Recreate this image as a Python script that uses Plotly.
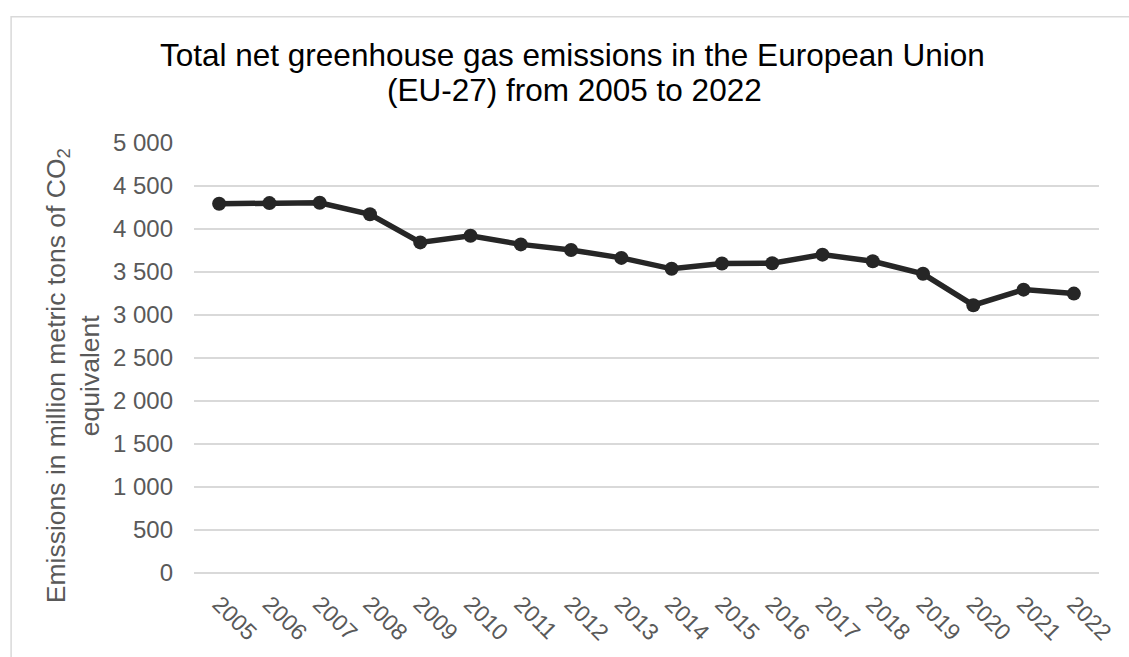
import plotly.graph_objects as go

years = [str(y) for y in range(2005, 2023)]
emissions = [4294, 4301, 4305, 4171, 3844, 3921, 3821, 3756, 3664, 3537,
             3598, 3602, 3702, 3625, 3479, 3114, 3295, 3249]
y_ticks = [0, 500, 1000, 1500, 2000, 2500, 3000, 3500, 4000, 4500, 5000]
y_tick_labels = ["0", "500", "1 000", "1 500", "2 000", "2 500", "3 000",
                 "3 500", "4 000", "4 500", "5 000"]

title_line1 = "Total net greenhouse gas emissions in the European Union"
title_line2 = "(EU-27) from 2005 to 2022"
y_title = "Emissions in million metric tons of CO<sub>2</sub><br>equivalent"

W, H = 1129, 657
L, R, T, B = 194, 1129 - 1102, 143, 657 - 577
PW, PH = W - L - R, H - T - B

def px_x(x):
    return (x - L) / PW

def px_y(y):
    return (H - B - y) / PH

FONT = "Liberation Sans, Arial, sans-serif"
GREY = "#595959"
GRID = "#d9d9d9"

fig = go.Figure()
fig.add_trace(go.Scatter(
    x=years, y=emissions, mode="lines+markers",
    line=dict(color="#262626", width=5.5),
    marker=dict(color="#262626", size=14),
    showlegend=False,
))

fig.update_layout(
    width=W, height=H,
    margin=dict(l=L, r=R, t=T, b=B),
    paper_bgcolor="white", plot_bgcolor="white",
    font=dict(family=FONT, color=GREY),
    xaxis=dict(
        type="category", range=[-0.5, len(years) - 0.5],
        showgrid=False, showline=False, zeroline=False,
        tickangle=45, tickfont=dict(size=23, color=GREY, family=FONT),
        ticks="", ticklabelstandoff=12,
    ),
    yaxis=dict(
        range=[0, 5000], tickvals=y_ticks, ticktext=y_tick_labels,
        showgrid=True, gridcolor=GRID, gridwidth=1.5,
        zeroline=True, zerolinecolor=GRID, zerolinewidth=1.5,
        showline=False, ticks="",
        tickfont=dict(size=24, color=GREY, family=FONT),
        ticklabelstandoff=20,
    ),
    annotations=[
        dict(text=title_line1, xref="paper", yref="paper",
             x=px_x(574), y=px_y(54), xanchor="center", yanchor="middle",
             showarrow=False, font=dict(size=31.5, color="black", family=FONT)),
        dict(text=title_line2, xref="paper", yref="paper",
             x=px_x(576), y=px_y(90), xanchor="center", yanchor="middle",
             showarrow=False, font=dict(size=31.5, color="black", family=FONT)),
        dict(text=y_title, xref="paper", yref="paper",
             x=px_x(72), y=px_y(378), xanchor="center", yanchor="middle",
             textangle=-90, showarrow=False,
             font=dict(size=26.5, color=GREY, family=FONT)),
    ],
    shapes=[
        dict(type="rect", xref="paper", yref="paper",
             x0=px_x(10.5), x1=px_x(1160), y0=px_y(700), y1=px_y(15.5),
             line=dict(color=GRID, width=1.5), fillcolor="rgba(0,0,0,0)",
             layer="below"),
    ],
)

fig.write_html("out.html")
